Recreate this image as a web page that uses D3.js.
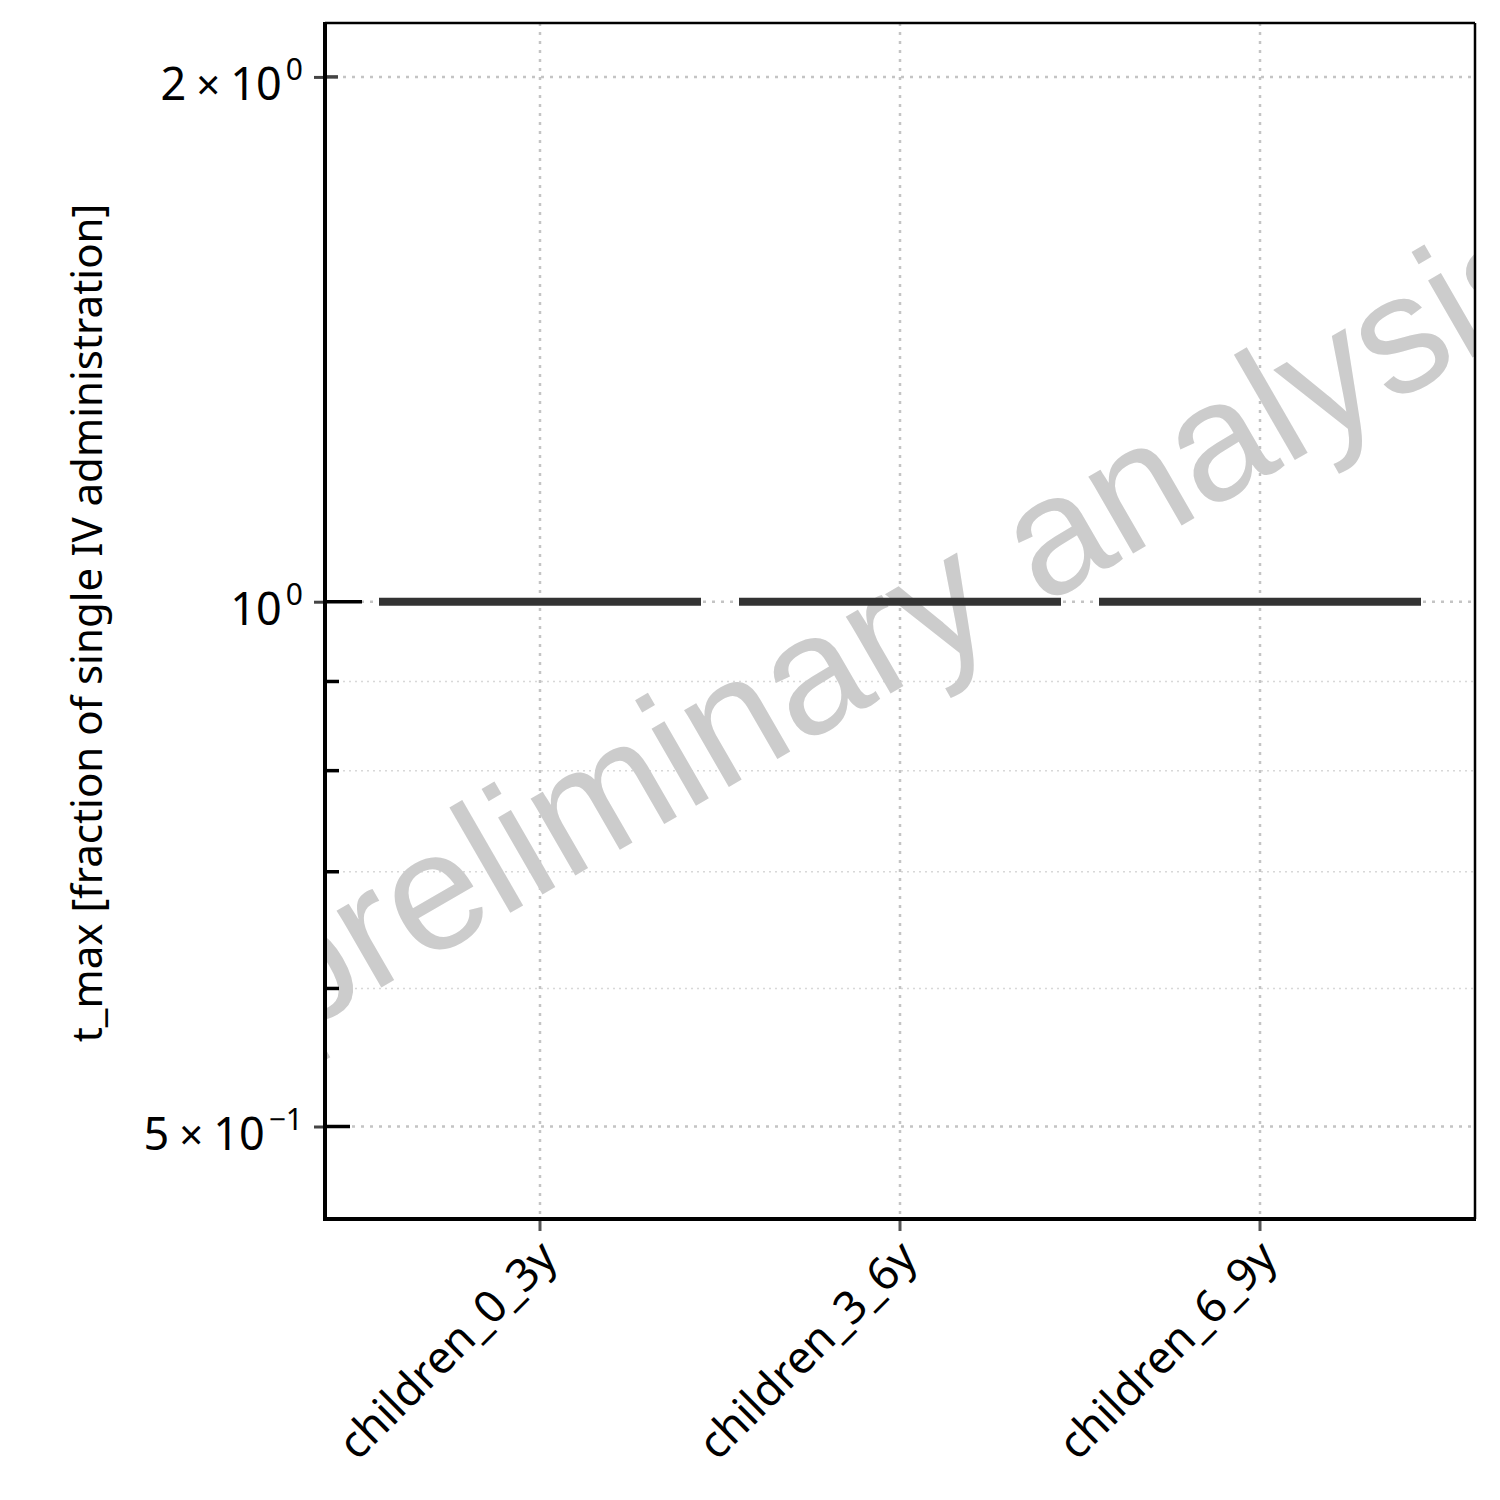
<!DOCTYPE html>
<html>
<head>
<meta charset="utf-8">
<script src="https://cdn.jsdelivr.net/npm/d3@7"></script>
<style>
  html, body { margin: 0; padding: 0; background: #fff; }
  svg { display: block; }
</style>
</head>
<body>
<script>
// ---- data ----
const categories = ["children_0_3y", "children_3_6y", "children_6_9y"];
const tmaxValues = [1, 1, 1];
const yMajorTicks = [2, 1, 0.5];
const yMajorMantissa = ["2", "", "5"];
const yMajorExponent = ["0", "0", "\u22121"];
const yMinorTicks = [0.9, 0.8, 0.7, 0.6];
const yDomain = [0.4425, 2.1476];
const yLabel = "t_max [fraction of single IV administration]";
const watermark = "preliminary analysis";

// ---- layout ----
const W = 1500, H = 1500;
const L = 325, R = 1475, T = 23, B = 1219;
const FONT = "'Noto Sans', 'Open Sans', sans-serif";

const svg = d3.select("body").append("svg").attr("width", W).attr("height", H);

const x = d3.scaleBand().domain(categories).range([L, R]).paddingInner(0.1056).paddingOuter(0.15);
const y = d3.scaleLog().domain(yDomain).range([B, T]);

svg.append("defs").append("clipPath").attr("id", "plotclip")
  .append("rect").attr("x", L).attr("y", T).attr("width", R - L).attr("height", B - T);

// gridlines
const grid = svg.append("g");
grid.selectAll("line.minor").data(yMinorTicks).join("line")
  .attr("x1", L).attr("x2", R).attr("y1", d => y(d)).attr("y2", d => y(d))
  .attr("stroke", "#d8d8d8").attr("stroke-width", 1.5).attr("stroke-dasharray", "2,4");
grid.selectAll("line.major").data(yMajorTicks).join("line")
  .attr("x1", L).attr("x2", R).attr("y1", d => y(d)).attr("y2", d => y(d))
  .attr("stroke", "#c4c4c4").attr("stroke-width", 2.5).attr("stroke-dasharray", "3,6");
grid.selectAll("line.vx").data(categories).join("line")
  .attr("x1", d => x(d) + x.bandwidth() / 2).attr("x2", d => x(d) + x.bandwidth() / 2)
  .attr("y1", T).attr("y2", B)
  .attr("stroke", "#c4c4c4").attr("stroke-width", 2.5).attr("stroke-dasharray", "3,6");

// watermark (clipped to the plot area, as in the reference)
svg.append("g").attr("clip-path", "url(#plotclip)")
  .append("text")
  .attr("transform", `translate(${(L + R) / 2},${(T + B) / 2}) rotate(-30)`)
  .attr("text-anchor", "middle").attr("dominant-baseline", "central")
  .attr("font-family", "'Liberation Sans', Arial, sans-serif")
  .attr("font-size", 168).attr("fill", "#cccccc")
  .text(watermark);

// data: median lines
svg.append("g").selectAll("line").data(categories.map((c, i) => ({ c, v: tmaxValues[i] }))).join("line")
  .attr("x1", d => x(d.c)).attr("x2", d => x(d.c) + x.bandwidth())
  .attr("y1", d => y(d.v)).attr("y2", d => y(d.v))
  .attr("stroke", "#333333").attr("stroke-width", 8);

// frame
svg.append("line").attr("x1", L).attr("x2", R).attr("y1", T).attr("y2", T).attr("stroke", "#000").attr("stroke-width", 2.5);
svg.append("line").attr("x1", R).attr("x2", R).attr("y1", T).attr("y2", B).attr("stroke", "#000").attr("stroke-width", 2.5);

// y-axis
const yAxis = d3.axisLeft(y).tickValues(yMajorTicks).tickSize(11).tickFormat("");
const gy = svg.append("g").attr("transform", `translate(${L},0)`).call(yAxis);
gy.select(".domain").remove();
gy.selectAll(".tick line").attr("stroke", "#444").attr("stroke-width", 3);
// inner ticks
const innerLen = [13, 37, 25];
svg.append("g").selectAll("line").data(yMajorTicks).join("line")
  .attr("x1", L).attr("x2", (d, i) => L + innerLen[i])
  .attr("y1", d => y(d)).attr("y2", d => y(d))
  .attr("stroke", (d, i) => i === 0 ? "#444" : "#000").attr("stroke-width", 3.5);
svg.append("g").selectAll("line").data(yMinorTicks).join("line")
  .attr("x1", L).attr("x2", L + 14)
  .attr("y1", d => y(d)).attr("y2", d => y(d))
  .attr("stroke", "#000").attr("stroke-width", 3.5);

// y tick labels
const labs = svg.append("g").selectAll("text").data(yMajorTicks).join("text")
  .attr("x", 303).attr("y", d => y(d) + 23)
  .attr("text-anchor", "end")
  .attr("font-family", FONT).attr("font-size", 45).attr("fill", "#000");
labs.each(function (d, i) {
  const t = d3.select(this);
  if (yMajorMantissa[i]) {
    t.append("tspan").text(yMajorMantissa[i]);
    t.append("tspan").attr("dx", 10).attr("font-size", 42).text("\u00d7");
    t.append("tspan").attr("dx", 10).text("10");
  } else {
    t.append("tspan").text("10");
  }
  t.append("tspan").attr("dy", -20).attr("dx", 4).attr("font-size", 30).text(yMajorExponent[i]);
});

// left spine
svg.append("line").attr("x1", L).attr("x2", L).attr("y1", T - 1).attr("y2", B + 2).attr("stroke", "#000").attr("stroke-width", 4);

// x-axis
const xAxis = d3.axisBottom(x).tickSize(12).tickFormat("");
const gx = svg.append("g").attr("transform", `translate(0,${B})`).call(xAxis);
gx.select(".domain").remove();
gx.selectAll(".tick line").attr("stroke", "#555").attr("stroke-width", 3);
svg.append("line").attr("x1", L - 2).attr("x2", R + 1).attr("y1", B).attr("y2", B).attr("stroke", "#000").attr("stroke-width", 4);

svg.append("g").selectAll("text").data(categories).join("text")
  .attr("transform", d => `translate(${x(d) + x.bandwidth() / 2 + 8},${B + 30}) rotate(-45)`)
  .attr("text-anchor", "end").attr("dy", "0.35em")
  .attr("font-family", FONT).attr("font-size", 45).attr("fill", "#000")
  .text(d => d);

// y label
svg.append("text")
  .attr("transform", `translate(85,${(T + B) / 2 + 2}) rotate(-90)`)
  .attr("text-anchor", "middle").attr("dominant-baseline", "central")
  .attr("font-family", FONT).attr("font-size", 42).attr("fill", "#000")
  .text(yLabel);
</script>
</body>
</html>
